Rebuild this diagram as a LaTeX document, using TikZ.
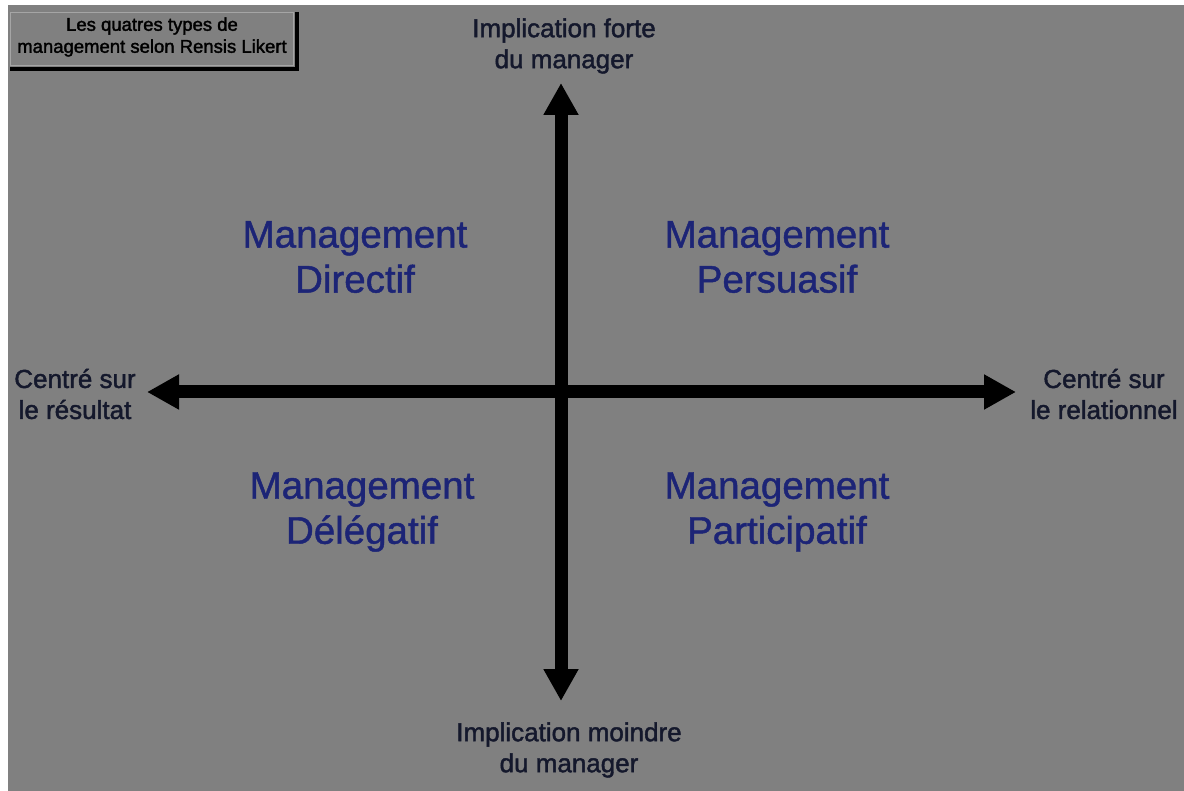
\documentclass[tikz,border=0pt]{standalone}
\usepackage{fontspec}
\setmainfont{Liberation Sans}
\newfontfamily\quadfont{Liberation Sans}[FakeBold=1.2]
\newfontfamily\labelfont{Liberation Sans}[FakeBold=1.6]
\newfontfamily\titlefont{Liberation Sans}[FakeBold=1.8]
\usetikzlibrary{arrows.meta}
\definecolor{bggray}{RGB}{128,128,128}
\definecolor{quadblue}{RGB}{28,36,118}
\definecolor{labelink}{RGB}{20,24,44}
\definecolor{boxline}{RGB}{165,165,165}
\tikzset{
  quadtext/.style={align=center, text=quadblue, font=\quadfont\fontsize{38.5}{45}\selectfont, inner sep=0pt},
  axislabel/.style={align=center, text=labelink, font=\labelfont\fontsize{26}{31}\selectfont, inner sep=0pt},
  titletext/.style={align=center, text=black, font=\titlefont\fontsize{18.5}{22}\selectfont, inner sep=0pt},
  axisarrow/.style={line width=13pt, draw=black, {Triangle[width=33pt,length=32pt]}-{Triangle[width=33pt,length=32pt]}}
}
\begin{document}
\begin{tikzpicture}[x=1pt,y=-1pt]
\useasboundingbox (0,0) rectangle (1184,791);
\fill[white] (0,0) rectangle (1184,791);
\fill[bggray] (8,5) rectangle (1184,791);
% title box
\draw[boxline, line width=1pt] (10,13) rectangle (293,66);
\draw[black, line width=4pt] (297,12) -- (297,69) -- (10,69);
\node[titletext] (title) at (152,37) {Les quatres types de\\management selon Rensis Likert};
% axes
\coordinate (N) at (561,83);
\coordinate (S) at (561,701);
\coordinate (W) at (147,392);
\coordinate (E) at (1016,392);
\draw[axisarrow] (W) -- (E);
\draw[axisarrow] (S) -- (N);
% axis labels
\node[axislabel] (top) at (564,46) {Implication forte\\du manager};
\node[axislabel] (bottom) at (569,750) {Implication moindre\\du manager};
\node[axislabel] (left) at (75,394) {Centré sur\\le résultat};
\node[axislabel] (right) at (1104,394) {Centré sur\\le relationnel};
% quadrants
\node[quadtext] (dir) at (355,257) {Management\\Directif};
\node[quadtext] (per) at (777,257) {Management\\Persuasif};
\node[quadtext] (del) at (362,512) {Management\\Délégatif};
\node[quadtext] (par) at (777,512) {Management\\Participatif};
\end{tikzpicture}
\end{document}
